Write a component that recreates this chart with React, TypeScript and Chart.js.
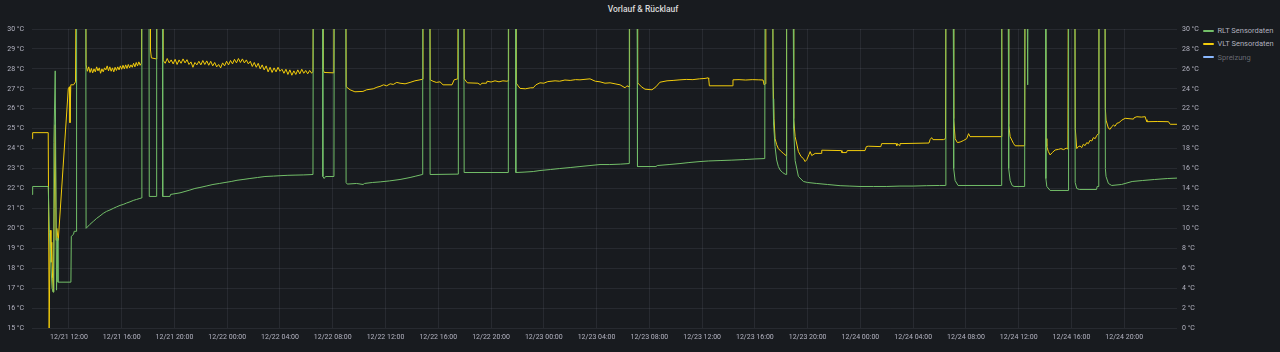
import React, { useEffect, useRef } from "react";
import { Chart, registerables } from "chart.js";

Chart.register(...registerables);

// time in hours since 12/21 00:00, value in °C
const RLT: [number, number][] = [
  [9.2, 21.7], [9.25, 22.1], [10.43, 22.1], [10.52, 19.8], [10.62, 18.4], [10.72, 17.0], [10.8, 16.8],
  [10.86, 24.3], [10.96, 27.9], [11.06, 16.9], [11.12, 19.5], [11.17, 17.3], [12.15, 17.3], [12.18, 19.6],
  [12.35, 19.7], [12.4, 19.85], [12.55, 19.85], [12.58, 35], [13.27, 35], [13.3, 20.0], [13.59, 20.2],
  [13.85, 20.35], [14.1, 20.5], [14.35, 20.62], [14.6, 20.75], [14.85, 20.85], [15.11, 20.92], [15.36, 21.0],
  [15.62, 21.08], [15.87, 21.15], [16.12, 21.2], [16.37, 21.27], [16.63, 21.33], [16.88, 21.4], [17.13, 21.45],
  [17.38, 21.5], [17.5, 21.52], [17.53, 35], [18.06, 35], [18.09, 21.6], [18.62, 21.6], [18.65, 35],
  [19.08, 35], [19.11, 21.6], [19.66, 21.6], [19.7, 21.7], [20.42, 21.78], [20.8, 21.85], [21.17, 21.92],
  [21.55, 22.0], [21.93, 22.05], [22.4, 22.12], [22.92, 22.2], [23.4, 22.25], [23.83, 22.3], [24.3, 22.35],
  [24.74, 22.41], [25.2, 22.45], [25.72, 22.5], [26.3, 22.55], [26.86, 22.6], [27.5, 22.62], [28.0, 22.64],
  [28.6, 22.66], [29.14, 22.67], [29.8, 22.68], [30.5, 22.7], [30.53, 35], [31.22, 35], [31.25, 22.6],
  [31.35, 22.5], [31.45, 22.6], [32.09, 22.6], [32.12, 35], [32.98, 35], [33.01, 22.3], [33.1, 22.22],
  [33.8, 22.25], [34.3, 22.2], [34.4, 22.25], [35.0, 22.3], [35.6, 22.33], [36.3, 22.38], [37.1, 22.45],
  [37.86, 22.55], [38.3, 22.62], [38.79, 22.7], [38.82, 35], [39.35, 35], [39.38, 22.7], [41.5, 22.72],
  [41.52, 35], [41.93, 35], [41.96, 22.8], [45.29, 22.8], [45.31, 35], [45.85, 35], [45.88, 22.8],
  [46.5, 22.82], [47.2, 22.85], [47.71, 22.9], [48.5, 22.95], [49.2, 23.0], [50.0, 23.05], [50.74, 23.1],
  [51.5, 23.15], [52.26, 23.2], [53.0, 23.2], [53.8, 23.22], [54.46, 23.25], [54.48, 35], [55.07, 35],
  [55.1, 23.1], [56.5, 23.1], [56.6, 23.15], [57.5, 23.2], [58.32, 23.25], [59.0, 23.3], [59.84, 23.35],
  [60.5, 23.38], [61.36, 23.4], [62.2, 23.42], [63.2, 23.45], [64.0, 23.48], [64.75, 23.5], [64.78, 35],
  [65.34, 35], [65.38, 26.5], [65.42, 25.2], [65.53, 24.1], [65.65, 23.43], [65.78, 23.1], [65.91, 22.93],
  [66.1, 22.8], [66.29, 22.72], [66.38, 22.7], [66.41, 35], [66.9, 35], [66.94, 25.0], [67.05, 23.4],
  [67.3, 22.6], [67.68, 22.35], [68.0, 22.3], [68.69, 22.25], [69.5, 22.2], [70.46, 22.14], [71.2, 22.12],
  [71.97, 22.1], [73.0, 22.1], [74.0, 22.1], [75.0, 22.12], [76.0, 22.12], [77.0, 22.14], [78.0, 22.15],
  [78.45, 22.15], [78.48, 35], [79.03, 35], [79.07, 23.0], [79.18, 22.4], [79.4, 22.15], [82.68, 22.15],
  [82.71, 35], [83.2, 35], [83.24, 23.0], [83.35, 22.4], [83.5, 22.15], [83.65, 22.1], [84.45, 22.1],
  [84.48, 35], [84.62, 35], [84.68, 27.2], [84.72, 35], [86.03, 35], [86.06, 22.5], [86.13, 22.1],
  [86.38, 21.9], [87.75, 21.9], [87.78, 35], [88.25, 35], [88.28, 22.3], [88.4, 22.0], [88.6, 21.95],
  [89.9, 21.95], [89.95, 22.1], [90.07, 22.1], [90.1, 35], [90.53, 35], [90.57, 23.0], [90.62, 22.6],
  [90.8, 22.25], [91.05, 22.15], [91.8, 22.2], [92.6, 22.35], [93.4, 22.4], [94.3, 22.45], [95.3, 22.5],
  [96.0, 22.52],
];

const VLT: [number, number][] = [
  [9.2, 24.5], [9.25, 24.8], [10.43, 24.8], [10.5, 15.0], [10.58, 19.9], [10.64, 18.3], [10.7, 19.3],
  [10.76, 17.5], [10.82, 16.8], [10.88, 21.0], [10.96, 25.2], [11.03, 19.4], [11.08, 20.0], [11.19, 19.4],
  [11.95, 27.0], [12.04, 27.1], [12.08, 25.3], [12.14, 27.2], [12.35, 27.2], [12.5, 27.35], [12.56, 35],
  [13.27, 35], [13.3, 28.2], [13.4, 27.88], [13.5, 28.1], [13.6, 27.82], [13.7, 28.02], [13.8, 27.8],
  [13.9, 28.0], [14.0, 27.85], [14.1, 28.1], [14.2, 27.9], [14.3, 28.05], [14.4, 27.78], [14.5, 28.0],
  [14.6, 27.85], [14.7, 28.05], [14.8, 27.95], [14.9, 28.15], [15.0, 27.9], [15.1, 28.1], [15.2, 27.88],
  [15.3, 28.05], [15.4, 27.85], [15.5, 28.08], [15.6, 27.92], [15.7, 28.1], [15.8, 27.95], [15.9, 28.15],
  [16.0, 27.98], [16.1, 28.18], [16.2, 28.0], [16.3, 28.2], [16.4, 28.02], [16.5, 28.22], [16.6, 28.05],
  [16.7, 28.2], [16.8, 28.08], [16.9, 28.28], [17.0, 28.1], [17.1, 28.32], [17.2, 28.15], [17.3, 28.35],
  [17.4, 28.18], [17.5, 28.3], [17.54, 35], [18.15, 35], [18.18, 28.95], [18.25, 28.55], [18.62, 28.5],
  [18.66, 35], [19.08, 35], [19.12, 28.45], [19.3, 28.28], [19.45, 28.52], [19.6, 28.3], [19.75, 28.45],
  [19.9, 28.25], [20.05, 28.48], [20.2, 28.22], [20.35, 28.45], [20.5, 28.28], [20.65, 28.5], [20.8, 28.3],
  [20.95, 28.46], [21.1, 28.22], [21.25, 28.35], [21.4, 28.08], [21.55, 28.32], [21.7, 28.2], [21.85, 28.38],
  [22.0, 28.2], [22.15, 28.42], [22.3, 28.22], [22.45, 28.4], [22.6, 28.18], [22.75, 28.38], [22.9, 28.15],
  [23.05, 28.32], [23.2, 28.1], [23.35, 28.22], [23.5, 28.05], [23.65, 28.3], [23.8, 28.15], [23.95, 28.38],
  [24.1, 28.2], [24.25, 28.42], [24.4, 28.25], [24.55, 28.48], [24.7, 28.3], [24.85, 28.52], [25.0, 28.32],
  [25.15, 28.5], [25.3, 28.3], [25.45, 28.45], [25.6, 28.25], [25.75, 28.38], [25.9, 28.12], [26.05, 28.32],
  [26.2, 28.08], [26.35, 28.28], [26.5, 28.0], [26.65, 28.2], [26.8, 27.95], [26.95, 28.15], [27.1, 27.85],
  [27.25, 28.08], [27.4, 27.82], [27.55, 28.05], [27.7, 27.85], [27.85, 28.08], [28.0, 27.88], [28.15, 27.98],
  [28.3, 27.78], [28.45, 27.98], [28.6, 27.72], [28.75, 27.95], [28.9, 27.68], [29.05, 27.9], [29.2, 27.72],
  [29.35, 27.95], [29.5, 27.75], [29.65, 27.98], [29.8, 27.78], [29.95, 27.92], [30.1, 27.75], [30.25, 27.92],
  [30.4, 27.78], [30.5, 27.88], [30.54, 35], [31.22, 35], [31.26, 28.0], [31.35, 27.82], [32.08, 27.8],
  [32.12, 35], [32.98, 35], [33.02, 27.1], [33.31, 26.95], [33.68, 26.85], [34.29, 26.87], [34.57, 26.95],
  [35.07, 27.0], [35.35, 27.08], [35.58, 27.12], [35.85, 27.2], [36.09, 27.15], [36.35, 27.25], [36.59, 27.22],
  [36.85, 27.32], [37.1, 27.28], [37.48, 27.25], [37.86, 27.32], [38.23, 27.4], [38.61, 27.45], [38.8, 27.48],
  [38.84, 35], [39.35, 35], [39.39, 27.45], [39.6, 27.38], [39.85, 27.32], [40.13, 27.35], [40.36, 27.2],
  [41.04, 27.2], [41.2, 27.45], [41.48, 27.5], [41.52, 35], [41.93, 35], [41.97, 27.5], [42.2, 27.3],
  [43.0, 27.28], [43.2, 27.2], [43.3, 27.28], [43.65, 27.28], [43.7, 27.38], [44.0, 27.34], [44.3, 27.4],
  [44.6, 27.35], [44.9, 27.4], [45.2, 27.38], [45.29, 27.4], [45.33, 35], [45.85, 35], [45.89, 27.3],
  [46.05, 27.15], [46.2, 27.02], [46.6, 27.0], [47.0, 27.05], [47.2, 27.05], [47.4, 27.2], [47.71, 27.3],
  [48.0, 27.28], [48.3, 27.36], [48.85, 27.4], [49.2, 27.38], [49.6, 27.44], [50.0, 27.42], [50.4, 27.46],
  [50.74, 27.45], [51.5, 27.5], [51.9, 27.38], [52.26, 27.35], [52.64, 27.28], [53.02, 27.3], [53.4, 27.25],
  [53.78, 27.2], [54.16, 27.05], [54.3, 27.15], [54.46, 27.1], [54.5, 35], [55.07, 35], [55.11, 27.3],
  [55.4, 27.1], [55.67, 26.98], [56.2, 26.95], [56.5, 27.1], [56.8, 27.33], [57.34, 27.4], [57.8, 27.42],
  [58.32, 27.45], [58.8, 27.47], [59.3, 27.46], [59.8, 27.5], [60.22, 27.52], [60.45, 27.55], [60.5, 27.5],
  [60.55, 27.15], [62.3, 27.15], [62.34, 27.45], [62.8, 27.46], [63.3, 27.44], [63.8, 27.46], [64.3, 27.45],
  [64.62, 27.44], [64.7, 27.2], [64.78, 27.25], [64.83, 35], [65.34, 35], [65.38, 27.5], [65.45, 25.5],
  [65.53, 24.5], [65.65, 24.2], [65.78, 24.0], [66.0, 23.85], [66.16, 23.76], [66.36, 23.65], [66.4, 35],
  [66.9, 35], [66.94, 25.5], [67.05, 24.6], [67.3, 23.85], [67.5, 23.6], [67.68, 23.5], [67.81, 23.35],
  [67.94, 23.45], [68.1, 23.7], [68.19, 23.85], [68.31, 23.65], [68.57, 23.76], [69.03, 23.76], [69.07, 23.92],
  [70.55, 23.9], [70.6, 23.8], [70.95, 23.8], [71.0, 23.9], [72.35, 23.9], [72.45, 24.1], [72.6, 24.12],
  [73.55, 24.1], [73.61, 24.25], [74.7, 24.25], [74.76, 24.15], [74.8, 24.25], [74.95, 24.15], [75.0, 24.25],
  [77.2, 24.28], [77.28, 24.45], [77.4, 24.55], [77.5, 24.45], [78.29, 24.45], [78.45, 24.5], [78.49, 35],
  [79.03, 35], [79.07, 25.5], [79.18, 24.5], [79.35, 24.3], [79.56, 24.33], [79.8, 24.4], [80.06, 24.5],
  [80.2, 24.75], [80.31, 24.6], [82.68, 24.6], [82.72, 35], [83.2, 35], [83.24, 25.2], [83.35, 24.6],
  [83.6, 24.26], [83.73, 24.14], [84.45, 24.14], [84.49, 35], [86.03, 35], [86.08, 24.5], [86.13, 24.1],
  [86.25, 23.85], [86.38, 23.68], [86.55, 23.8], [86.76, 23.93], [87.01, 23.96], [87.2, 24.0], [87.4, 23.95],
  [87.6, 24.02], [87.73, 23.98], [87.77, 35], [88.25, 35], [88.29, 25.0], [88.4, 24.0], [88.52, 24.1],
  [88.65, 24.13], [88.78, 24.05], [88.9, 24.22], [89.03, 24.15], [89.16, 24.3], [89.28, 24.25], [89.41, 24.42],
  [89.54, 24.38], [89.66, 24.55], [89.8, 24.5], [89.91, 24.65], [90.04, 24.75], [90.08, 35], [90.53, 35],
  [90.57, 26.0], [90.62, 25.43], [90.8, 25.02], [90.93, 24.97], [91.05, 25.1], [91.18, 25.18], [91.3, 25.12],
  [91.44, 25.27], [91.6, 25.3], [91.82, 25.43], [92.07, 25.52], [92.7, 25.48], [92.75, 25.55], [92.96, 25.6],
  [93.3, 25.58], [93.59, 25.6], [93.65, 25.45], [93.72, 25.35], [94.5, 25.36], [95.36, 25.35], [95.42, 25.28],
  [95.49, 25.22], [96.0, 25.22],
];

const X_TICKS = [12, 16, 20, 24, 28, 32, 36, 40, 44, 48, 52, 56, 60, 64, 68, 72, 76, 80, 84, 88, 92];
const X_MIN = 9.2;
const X_MAX = 96.0;

const TITLE = "Vorlauf & Rücklauf";
const LEGEND = [
  { label: "RLT Sensordaten", color: "#73BF69", hidden: false },
  { label: "VLT Sensordaten", color: "#F2CC0C", hidden: false },
  { label: "Spreizung", color: "#8AB8FF", hidden: true },
];

const BG = "#181b1f";
const GRID = "rgba(204,204,220,0.09)";
const TEXT = "rgba(204,204,220,0.85)";
const FONT = "Roboto, 'Liberation Sans', sans-serif";

function fmtTime(v: number): string {
  const day = 21 + Math.floor(v / 24);
  const h = Math.round(v - Math.floor(v / 24) * 24);
  return `12/${day} ${String(h).padStart(2, "0")}:00`;
}

export default function App() {
  const ref = useRef<HTMLCanvasElement | null>(null);
  useEffect(() => {
    if (!ref.current) return;
    const chart = new Chart(ref.current, {
      type: "line",
      data: {
        datasets: [
          {
            label: LEGEND[0].label,
            data: RLT.map(([x, y]) => ({ x, y })),
            borderColor: LEGEND[0].color,
            borderWidth: 1,
            pointRadius: 0,
            tension: 0,
            yAxisID: "y",
          },
          {
            label: LEGEND[1].label,
            data: VLT.map(([x, y]) => ({ x, y })),
            borderColor: LEGEND[1].color,
            borderWidth: 1,
            pointRadius: 0,
            tension: 0,
            yAxisID: "y",
          },
        ],
      },
      options: {
        animation: false,
        responsive: false,
        maintainAspectRatio: false,
        layout: { padding: { top: 29, left: 0, right: 0, bottom: 0 } },
        plugins: { legend: { display: false }, tooltip: { enabled: false }, title: { display: false } },
        scales: {
          x: {
            type: "linear",
            min: X_MIN,
            max: X_MAX,
            afterBuildTicks: (s: any) => {
              s.ticks = X_TICKS.map((v) => ({ value: v }));
            },
            afterFit: (s: any) => {
              s.height = 24;
            },
            ticks: {
              autoSkip: false,
              maxRotation: 0,
              padding: 5,
              color: TEXT,
              font: { family: FONT, size: 7 },
              callback: (v: any) => fmtTime(Number(v)),
            },
            grid: { color: GRID, drawTicks: false },
            border: { display: false },
          },
          y: {
            position: "left",
            min: 15,
            max: 30,
            afterFit: (s: any) => {
              s.width = 32;
            },
            ticks: {
              stepSize: 1,
              padding: 8,
              color: TEXT,
              font: { family: FONT, size: 7 },
              callback: (v: any) => `${v} °C`,
            },
            grid: { color: GRID, drawTicks: false },
            border: { display: false },
          },
          y1: {
            position: "right",
            min: 0,
            max: 30,
            afterFit: (s: any) => {
              s.width = 23;
            },
            ticks: {
              stepSize: 2,
              padding: 5,
              color: TEXT,
              font: { family: FONT, size: 7 },
              callback: (v: any) => `${v} °C`,
            },
            grid: { drawOnChartArea: false, drawTicks: false },
            border: { display: false },
          },
        },
      },
    } as any);
    return () => chart.destroy();
  }, []);

  return (
    <div style={{ position: "fixed", left: 0, top: 0, width: 1280, height: 352, background: BG, overflow: "hidden", fontFamily: FONT }}>
      <div style={{ position: "absolute", left: 3, top: 3, width: 1280, textAlign: "center", color: "#d8d9da", fontSize: 8.5, fontWeight: 500, lineHeight: "12px" }}>
        {TITLE}
      </div>
      <canvas ref={ref} width={1200} height={352} style={{ position: "absolute", left: 0, top: 0, width: 1200, height: 352 }} />
      <div style={{ position: "absolute", left: 1203, top: 24 }}>
        {LEGEND.map((l) => (
          <div key={l.label} style={{ display: "flex", alignItems: "center", height: 13.3, fontSize: 7.5, color: l.hidden ? "rgba(204,204,220,0.45)" : TEXT, whiteSpace: "nowrap" }}>
            <span style={{ display: "inline-block", width: 11, height: 2, background: l.color, marginRight: 3.5, borderRadius: 1 }} />
            {l.label}
          </div>
        ))}
      </div>
    </div>
  );
}
